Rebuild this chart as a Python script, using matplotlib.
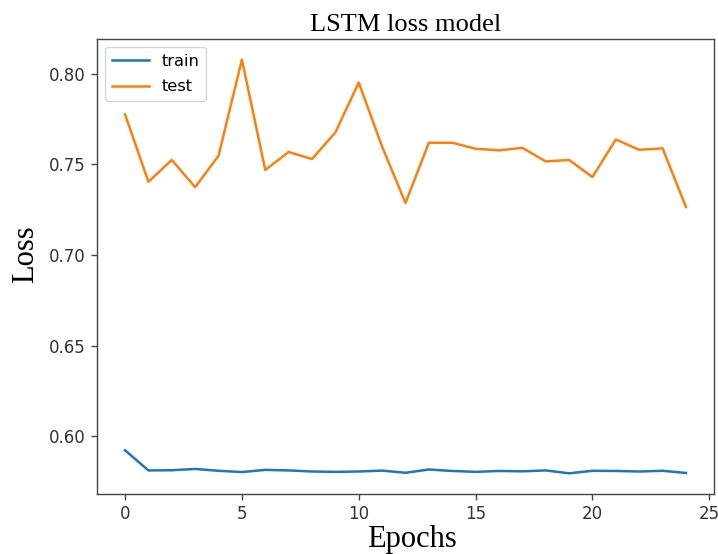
import matplotlib
matplotlib.use("Agg")
import matplotlib.pyplot as plt

epochs = list(range(25))
train_loss = [0.5923, 0.5812, 0.5813, 0.5820, 0.5810, 0.5803, 0.5815, 0.5812, 0.5806, 0.5804,
              0.5806, 0.5811, 0.5799, 0.5817, 0.5809, 0.5804, 0.5809, 0.5807, 0.5812, 0.5796,
              0.5810, 0.5809, 0.5806, 0.5810, 0.5798]
test_loss = [0.7775, 0.7404, 0.7524, 0.7374, 0.7547, 0.8077, 0.7469, 0.7568, 0.7529, 0.7676,
             0.7951, 0.7597, 0.7287, 0.7619, 0.7619, 0.7586, 0.7577, 0.7591, 0.7516, 0.7524,
             0.7430, 0.7637, 0.7580, 0.7588, 0.7265]

fig = plt.figure(figsize=(7.18, 5.54), dpi=100)
ax = fig.add_axes([97/718, (554-494)/554, (714-97)/718, (494-39)/554])

ax.plot(epochs, train_loss, color="#1f77b4", lw=1.8, label="train")
ax.plot(epochs, test_loss, color="#ff7f0e", lw=1.8, label="test")

ax.set_xticks([0, 5, 10, 15, 20, 25])
ax.set_yticks([0.60, 0.65, 0.70, 0.75, 0.80])
ax.tick_params(labelsize=12, labelcolor="#333333", color="#444444", length=4.5, width=1.0)
for s in ax.spines.values():
    s.set_color("#444444")
    s.set_linewidth(1.0)

serif = ["Liberation Serif", "DejaVu Serif"]
ax.set_title("LSTM loss model", fontsize=19, family=serif, pad=6)
ax.set_xlabel("Epochs", fontsize=22, family=serif)
ax.set_ylabel("Loss", fontsize=22, family=serif)
ax.xaxis.set_label_coords(0.511, -0.069)
ax.yaxis.set_label_coords(-0.092, 0.526)

ax.legend(loc="upper left", fontsize=11.7, handlelength=2.3, labelspacing=0.65)

fig.savefig("out.png", dpi=100)
